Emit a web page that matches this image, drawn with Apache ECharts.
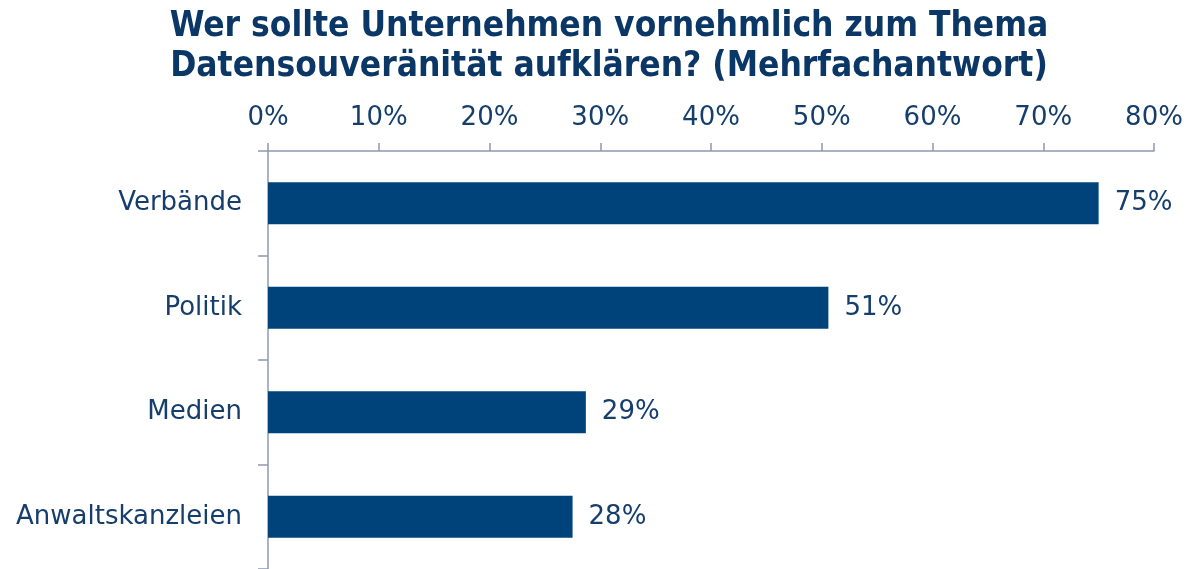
<!DOCTYPE html>
<html>
<head>
<meta charset="utf-8">
<script src="https://cdn.jsdelivr.net/npm/echarts@6/dist/echarts.min.js"></script>
<style>
html,body{margin:0;padding:0;background:#fff;}
#chart{width:1189px;height:569px;}
</style>
</head>
<body>
<div id="chart"></div>
<script>
const titleLines = ['Wer sollte Unternehmen vornehmlich zum Thema', 'Datensouveränität aufklären? (Mehrfachantwort)'];
const categories = ['Verbände', 'Politik', 'Medien', 'Anwaltskanzleien'];
const values = [75, 50.6, 28.7, 27.5];
const axisMin = 0, axisMax = 80, axisStep = 10;

const textColor = '#163E6C';
const barColor = '#00437B';
const axisColor = '#8F98B2';
const font = 'DejaVu Sans';

const chart = echarts.init(document.getElementById('chart'), null, {renderer: 'canvas'});
chart.setOption({
  animation: false,
  backgroundColor: '#fff',
  title: {
    text: titleLines.join('\n'),
    left: 604, textAlign: 'center', top: 2,
    textStyle: {fontFamily: 'DejaVu Sans Condensed', fontWeight: 'bold', fontSize: 35, lineHeight: 40, color: '#0B3766'}
  },
  grid: {left: 268, right: 35, top: 151, height: 420, containLabel: false},
  xAxis: {
    type: 'value', position: 'top', min: axisMin, max: axisMax, interval: axisStep,
    axisLine: {show: true, lineStyle: {color: axisColor, width: 1.5}},
    axisTick: {show: true, length: 8, lineStyle: {color: axisColor, width: 1.5}},
    splitLine: {show: false},
    axisLabel: {formatter: '{value}%', margin: 20, fontFamily: font, fontSize: 26, color: textColor}
  },
  yAxis: {
    type: 'category', data: categories, inverse: true,
    axisLine: {show: true, lineStyle: {color: axisColor, width: 1.5}},
    axisTick: {show: true, length: 10, lineStyle: {color: axisColor, width: 1.5}},
    axisLabel: {margin: 26, fontFamily: font, fontSize: 26, color: textColor}
  },
  series: [{
    type: 'bar', data: values, barCategoryGap: '60%',
    itemStyle: {color: barColor},
    label: {show: true, position: 'right', distance: 16, fontFamily: font, fontSize: 26, color: textColor,
      formatter: p => Math.round(p.value) + '%'}
  }]
});
</script>
</body>
</html>
